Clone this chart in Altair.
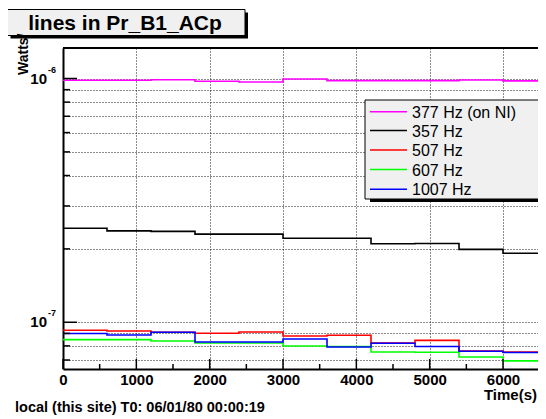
import altair as alt
import pandas as pd

# ---------------- data ----------------
bin_starts = [0, 600, 1200, 1800, 2400, 3000, 3600, 4200, 4800, 5400, 6000]
t_end = 6600
series_names = ["377 Hz (on NI)", "357 Hz", "507 Hz", "607 Hz", "1007 Hz"]
series_colors = ["#ff00ff", "#000000", "#ff0000", "#00ff00", "#0000ff"]
v377 = [9.83e-7, 9.83e-7, 9.89e-7, 9.74e-7, 9.67e-7, 9.95e-7, 9.80e-7, 9.80e-7, 9.80e-7, 9.86e-7, 9.78e-7]
v357 = [2.43e-7, 2.37e-7, 2.36e-7, 2.30e-7, 2.30e-7, 2.21e-7, 2.21e-7, 2.10e-7, 2.105e-7, 1.99e-7, 1.92e-7]
v507 = [9.27e-8, 9.21e-8, 9.10e-8, 9.01e-8, 9.12e-8, 8.78e-8, 8.84e-8, 8.22e-8, 8.43e-8, 7.62e-8, 7.55e-8]
v607 = [8.49e-8, 8.49e-8, 8.38e-8, 8.22e-8, 8.22e-8, 7.99e-8, 7.95e-8, 7.55e-8, 7.53e-8, 7.20e-8, 6.94e-8]
v1007 = [8.99e-8, 8.87e-8, 9.10e-8, 8.30e-8, 8.30e-8, 8.54e-8, 7.92e-8, 8.20e-8, 7.95e-8, 7.60e-8, 7.51e-8]
series_values = [v377, v357, v507, v607, v1007]

x_major = [0, 1000, 2000, 3000, 4000, 5000, 6000]
x_minor = [500, 1500, 2500, 3500, 4500, 5500, 6500]
y_decades = [1e-7, 1e-6]
y_exponents = ["-7", "-6"]
y_minor = [7e-8, 8e-8, 9e-8, 2e-7, 3e-7, 4e-7, 5e-7, 6e-7, 7e-7, 8e-7, 9e-7]

title_text = "lines in Pr_B1_ACp"
y_title = "Watts/"
x_title = "Time(s)"
footer = "local (this site) T0: 06/01/80 00:00:19"

# ---------------- build tables ----------------
rows = []
for name, vals in zip(series_names, series_values):
    for t, v in zip(bin_starts + [t_end], vals + [vals[-1]]):
        rows.append({"t": t, "v": v, "series": name})
df = pd.DataFrame(rows)

W, H = 475, 321
FONT = "Liberation Sans"
one = pd.DataFrame({"a": [0]})

x_scale = alt.Scale(domain=[0, 6477], nice=False, zero=False)
y_scale = alt.Scale(type="log", domain=[6.43e-8, 1.334e-6], nice=False)

x_axis = alt.Axis(values=x_major, format="d", grid=True, gridDash=[1, 2], gridColor="#000000",
                  gridOpacity=0.9, ticks=False, domainWidth=2, domainColor="#000000",
                  labelFont=FONT, labelFontSize=15, labelFontWeight="bold",
                  labelColor="#000000", labelPadding=3, labelFlush=False,
                  labelOverlap=False, title=None)
y_vals = sorted(y_minor + y_decades)
y_axis = alt.Axis(values=y_vals, grid=True, gridDash=[1, 2], gridColor="#000000",
                  gridOpacity=0.9, ticks=False, labels=False, domainWidth=2,
                  domainColor="#000000", title=None)

X = alt.X("t:Q", scale=x_scale, axis=x_axis)
Y = alt.Y("v:Q", scale=y_scale, axis=y_axis)

lines = alt.Chart(df).mark_line(interpolate="step-after", strokeWidth=1.6, clip=True).encode(
    x=X, y=Y,
    color=alt.Color("series:N", scale=alt.Scale(domain=series_names, range=series_colors), legend=None),
)

# tick marks drawn inside the frame (ROOT style)
ymaj = alt.Chart(pd.DataFrame({"v": y_decades})).mark_rule(color="#000", strokeWidth=1.5).encode(
    y=Y, x=alt.value(0), x2=alt.value(14))
ymin = alt.Chart(pd.DataFrame({"v": y_minor})).mark_rule(color="#000", strokeWidth=1.5).encode(
    y=Y, x=alt.value(0), x2=alt.value(7))
xmaj = alt.Chart(pd.DataFrame({"t": x_major})).mark_rule(color="#000", strokeWidth=1.5).encode(
    x=X, y=alt.value(H), y2=alt.value(H - 10))
xmin = alt.Chart(pd.DataFrame({"t": x_minor})).mark_rule(color="#000", strokeWidth=1.5).encode(
    x=X, y=alt.value(H), y2=alt.value(H - 5))

top_border = alt.Chart(one).mark_rule(color="#000", strokeWidth=2).encode(
    x=alt.value(0), x2=alt.value(W + 20), y=alt.value(0))

# y decade labels 10^n
dec_df = pd.DataFrame({"v": y_decades, "exp": y_exponents})
dec_base = alt.Chart(dec_df).mark_text(text="10", align="right", baseline="middle",
                                       font=FONT, fontSize=15, fontWeight="bold", color="#000").encode(
    y=Y, x=alt.value(-16))
dec_exp = alt.Chart(dec_df).mark_text(align="left", baseline="middle", dy=-9,
                                      font=FONT, fontSize=9, fontWeight="bold", color="#000").encode(
    y=Y, x=alt.value(-15), text="exp:N")

# title box
title_shadow = alt.Chart(one).mark_rect(color="#000").encode(
    x=alt.value(-52.5), x2=alt.value(185), y=alt.value(-35.5), y2=alt.value(-9.5))
title_box = alt.Chart(one).mark_rect(fill="#f0f0f0", stroke="#000", strokeWidth=1).encode(
    x=alt.value(-55.5), x2=alt.value(182), y=alt.value(-38.5), y2=alt.value(-12.5))
title_txt = alt.Chart(one).mark_text(text=title_text, align="center", baseline="alphabetic",
                                     font=FONT, fontSize=21, fontWeight="bold", color="#000").encode(
    x=alt.value(62), y=alt.value(-18))

# axis titles & footer
ytitle = alt.Chart(one).mark_text(text=y_title, angle=270, align="left", baseline="alphabetic",
                                  font=FONT, fontSize=14, fontWeight="bold", color="#000").encode(
    x=alt.value(-35), y=alt.value(27))
xtitle = alt.Chart(one).mark_text(text=x_title, align="right", baseline="alphabetic",
                                  font=FONT, fontSize=15, fontWeight="bold", color="#000").encode(
    x=alt.value(W - 1), y=alt.value(352))
foot = alt.Chart(one).mark_text(text=footer, align="left", baseline="middle",
                                font=FONT, fontSize=14.5, fontWeight="bold", color="#000").encode(
    x=alt.value(-48), y=alt.value(360))

# legend box
leg_shadow = alt.Chart(one).mark_rect(color="#000").encode(
    x=alt.value(307), x2=alt.value(530), y=alt.value(55), y2=alt.value(154))
leg_box = alt.Chart(one).mark_rect(fill="#f0f0f0", stroke="#000", strokeWidth=1).encode(
    x=alt.value(302), x2=alt.value(525), y=alt.value(52), y2=alt.value(151))
leg_layers = []
row_y = [63.7, 82.5, 102, 121.5, 141.3]
for name, col, yy in zip(series_names, series_colors, row_y):
    leg_layers.append(alt.Chart(one).mark_rule(color=col, strokeWidth=1.6).encode(
        x=alt.value(307), x2=alt.value(344), y=alt.value(yy)))
    leg_layers.append(alt.Chart(one).mark_text(text=name, align="left", baseline="middle",
                                               font=FONT, fontSize=16, color="#000").encode(
        x=alt.value(349), y=alt.value(yy + 1)))

chart = alt.layer(
    lines, ymaj, ymin, xmaj, xmin, top_border, dec_base, dec_exp,
    title_shadow, title_box, title_txt, ytitle, xtitle, foot,
    leg_shadow, leg_box, *leg_layers,
).properties(
    width=W, height=H,
    autosize=alt.AutoSizeParams(type="none"),
    padding={"left": 55, "top": 40, "right": 0, "bottom": 50},
    background="white",
).configure_view(stroke=None)

chart.save("out.html", embed_options={"renderer": "svg", "actions": False})
